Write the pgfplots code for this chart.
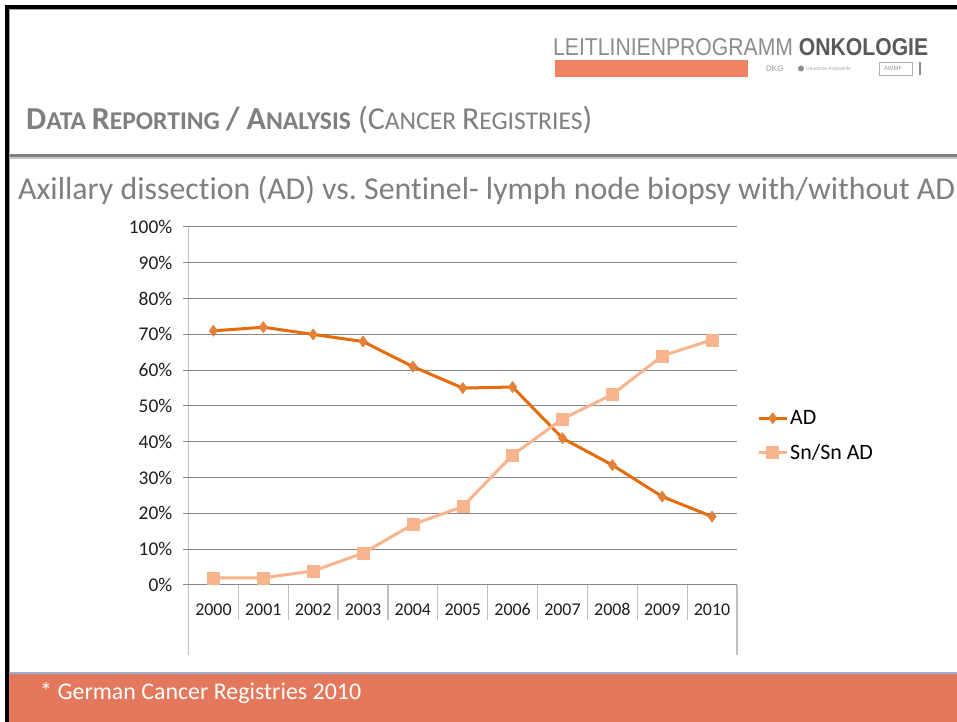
\documentclass[border=0pt]{standalone}
\usepackage{fontspec}
\setmainfont{Carlito}[Ligatures=NoCommon]
\newfontfamily\logofont{Liberation Sans}
\usepackage{graphicx}
\usepackage{pgfplots}
\pgfplotsset{compat=1.18}
\definecolor{adcol}{HTML}{E46C0A}
\definecolor{admark}{HTML}{E3803A}
\definecolor{sncol}{HTML}{F8B48C}
\definecolor{gridc}{HTML}{878787}
\definecolor{axc}{HTML}{BFBFBF}
\definecolor{foot}{HTML}{E4785C}
\definecolor{footline}{HTML}{9DB0D0}
\definecolor{orbar}{HTML}{EE8462}
\definecolor{hgray}{HTML}{7F7F7F}
\definecolor{lgray}{HTML}{8C8C8C}
\definecolor{dgray}{HTML}{5A5A5A}
\definecolor{tick}{HTML}{1E1E1E}
\newcommand{\Bg}{\fontsize{32}{38}\selectfont}
\newcommand{\Sm}{\fontsize{25.6}{30}\selectfont}
\begin{document}
\begin{tikzpicture}[x=1bp,y=1bp]
\path[use as bounding box, fill=white] (0,0) rectangle (957,722);
% frame
\fill[black] (5,713) rectangle (957,717);
\fill[black] (5,0) rectangle (9,717);
\fill[black!35] (9,0) rectangle (10,713);
\fill[black!35] (9,712) rectangle (957,713);
% logo
\node[anchor=base west, inner sep=0] at (553,666) {\resizebox{375bp}{17bp}{\logofont\fontsize{20}{20}\selectfont\textcolor{lgray}{LEITLINIENPROGRAMM} \textcolor{dgray}{\bfseries ONKOLOGIE}}};
\fill[orbar] (555,645) rectangle (748,662);
\node[anchor=base west, inner sep=0, text=black!40, font=\logofont\fontsize{8}{8}\selectfont] at (766,650) {DKG};
\fill[black!45] (801,653.5) circle (3);
\node[anchor=base west, inner sep=0, text=black!35, font=\logofont\fontsize{5}{5}\selectfont] at (806,651) {Deutsche Krebshilfe};
\draw[black!30, line width=0.8bp] (879,647) rectangle (912,660);
\node[anchor=base west, inner sep=0, text=black!40, font=\logofont\fontsize{6}{6}\selectfont] at (884,651) {AWMF};
\fill[black!45] (919,647) rectangle (921,660);
% header
\node[anchor=base west, inner sep=0, text=hgray] at (26,592) {\resizebox{566bp}{!}{{\bfseries\Bg D\Sm ATA \Bg R\Sm EPORTING \Bg/ A\Sm NALYSIS}\Bg\ (C\Sm ANCER \Bg R\Sm EGISTRIES\Bg)}};
\fill[hgray] (10,565) rectangle (957,568);
\fill[black!22] (10,563) rectangle (957,565);
% subtitle
\node[anchor=base west, inner sep=0, text=hgray, font=\fontsize{32}{38}\selectfont] at (18,522) {Axillary dissection (AD) vs.\ Sentinel- lymph node biopsy with/without AD};
% footer
\fill[foot] (9,0) rectangle (957,48);
\fill[footline] (9,48) rectangle (957,49.5);
\node[anchor=base west, inner sep=0, text=white, font=\fontsize{24}{28}\selectfont] at (40,22) {* German Cancer Registries 2010};
% chart frame lines
\draw[axc, line width=1.2bp] (188.5,67) -- (188.5,495);
\draw[axc, line width=1.2bp] (737,67) -- (737,137);
\begin{axis}[
  at={(188.5bp,137bp)}, anchor=south west,
  scale only axis, width=548.5bp, height=358bp,
  xmin=-0.5, xmax=10.5, ymin=0, ymax=100,
  axis lines*=left, axis line style={draw=none},
  ytick={0,10,...,100},
  ymajorgrids, grid style={gridc, line width=1bp},
  /pgf/number format/assume math mode=true,
  yticklabel={\pgfmathprintnumber{\tick}\%},
  ytick style={draw=gridc, line width=1bp},
  major tick length=6bp, tick align=outside,
  xtick={0,...,10},
  xticklabels={2000,2001,2002,2003,2004,2005,2006,2007,2008,2009,2010},
  xtick style={draw=none},
  extra x ticks={-0.5,0.5,1.5,2.5,3.5,4.5,5.5,6.5,7.5,8.5,9.5,10.5},
  extra x tick labels={},
  extra x tick style={major tick length=35bp, tick align=outside, grid=none, xtick style={draw=axc, line width=1.2bp}},
  ticklabel style={font=\fontsize{18}{20}\selectfont, text=tick},
  yticklabel style={anchor=east, inner sep=0pt, xshift=-10bp, font=\fontsize{19.5}{21}\selectfont},
  xticklabel style={anchor=base, inner sep=0pt, yshift=-25bp},
  legend style={at={(axis description cs:1.0365,0.4176)}, anchor=west, draw=none, fill=none, inner sep=0pt, font=\fontsize{22}{26}\selectfont, row sep=14bp, cells={anchor=west}},
  legend image code/.code={\draw[mark repeat=2,mark phase=2,#1] plot coordinates {(0bp,0bp) (14bp,0bp) (28bp,0bp)};},
  clip=false,
]
\addplot[adcol, line width=3bp, line join=round, mark=diamond*, mark size=5.6bp, mark options={solid, line width=0.5bp, fill=admark, draw=admark}] coordinates {(0,71)(1,72)(2,70)(3,68)(4,61)(5,55)(6,55.3)(7,41)(8,33.5)(9,24.7)(10,19.1)};
\addplot[sncol, line width=3bp, line join=round, mark=square*, mark size=6bp, mark options={solid, line width=0.5bp, fill=sncol, draw=sncol}] coordinates {(0,2)(1,2)(2,3.9)(3,8.9)(4,16.9)(5,21.9)(6,36.3)(7,46.4)(8,53.2)(9,64)(10,68.5)};
\legend{AD, Sn/Sn AD}
\end{axis}
\end{tikzpicture}
\end{document}
